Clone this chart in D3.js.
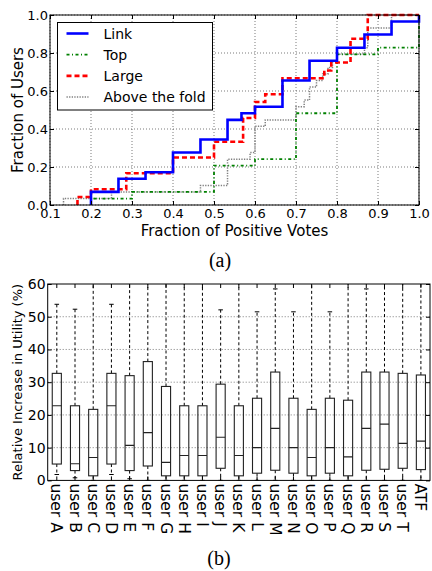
<!DOCTYPE html>
<html>
<head>
<meta charset="utf-8">
<script src="https://cdn.jsdelivr.net/npm/d3@7"></script>
<style>
  body { margin: 0; background: #fff; }
  svg { font-family: "DejaVu Sans", sans-serif; }
</style>
</head>
<body>
<div id="chart"></div>
<script>
// ---- data (a): CDF of fraction of positive votes
var linkX  = [0.2, 0.267, 0.333, 0.4, 0.467, 0.533, 0.567, 0.6, 0.667, 0.733, 0.8, 0.867, 0.933, 1.0];
var linkY  = [0.069, 0.138, 0.172, 0.276, 0.345, 0.448, 0.483, 0.517, 0.655, 0.759, 0.828, 0.897, 0.966, 1.0];
var topX   = [0.2, 0.3, 0.5, 0.6, 0.7, 0.8, 0.9, 1.0];
var topY   = [0.034, 0.069, 0.207, 0.241, 0.483, 0.793, 0.828, 1.0];
var largeX = [0.167, 0.2, 0.286, 0.4, 0.5, 0.571, 0.6, 0.625, 0.667, 0.769, 0.786, 0.833, 0.875];
var largeY = [0.042, 0.083, 0.167, 0.25, 0.333, 0.458, 0.542, 0.583, 0.667, 0.708, 0.75, 0.875, 1.0];
var foldX  = [0.133, 0.25, 0.467, 0.533, 0.588, 0.6, 0.625, 0.7, 0.72, 0.733, 0.75, 0.765, 0.778, 0.789, 0.8, 0.867, 0.875, 0.933];
var foldY  = [0.034, 0.069, 0.103, 0.241, 0.276, 0.414, 0.448, 0.517, 0.552, 0.621, 0.655, 0.69, 0.724, 0.759, 0.793, 0.828, 0.931, 1.0];
var seriesNames = ["Link", "Top", "Large", "Above the fold"];
var xTicksA = [0.1, 0.2, 0.3, 0.4, 0.5, 0.6, 0.7, 0.8, 0.9, 1.0];
var yTicksA = [0.0, 0.2, 0.4, 0.6, 0.8, 1.0];

// ---- data (b): box plot of relative increase in utility
var boxLabels = ["user A","user B","user C","user D","user E","user F","user G","user H","user I","user J",
                 "user K","user L","user M","user N","user O","user P","user Q","user R","user S","user T","ATF"];
var whiskLow  = [1.8, 0.8, 0, 1.8, 0.5, 0, 0, 0, 0, 0, 0, 0, 0, 0, 0, 0, 0, 0, 0, 0, 0];
var q1        = [5.0, 3.0, 1.4, 5.0, 3.0, 4.4, 1.4, 1.4, 1.4, 3.7, 1.4, 2.2, 3.1, 2.2, 1.4, 2.2, 1.4, 3.1, 3.4, 3.7, 3.3];
var medians   = [22.8, 5.1, 7.0, 22.8, 10.7, 14.6, 5.5, 7.6, 7.6, 13.2, 7.6, 10.0, 15.9, 10.0, 7.0, 10.0, 7.2, 15.9, 17.2, 11.3, 12.0];
var q3        = [32.7, 22.8, 21.7, 32.7, 32.0, 36.3, 28.7, 22.8, 22.8, 29.4, 22.8, 25.1, 33.1, 25.1, 21.7, 25.1, 24.5, 33.1, 33.1, 32.7, 32.2];
var whiskHigh = [53.8, 52.3, 65, 53.8, 65, 65, 65, 65, 65, 52.1, 65, 51.5, 58.5, 51.5, 65, 51.5, 65, 58.5, 65, 65, 65];
var yTicksB = [0, 10, 20, 30, 40, 50, 60];

var svg = d3.select("#chart").append("svg")
    .attr("width", 432)
    .attr("height", 571);

// =========== chart (a) ===========
var A = {left: 50, right: 419, top: 15, bottom: 205};
var xa = d3.scaleLinear().domain([0.1, 1.0]).range([A.left, A.right]);
var ya = d3.scaleLinear().domain([0, 1.0]).range([A.bottom, A.top]);

var ga = svg.append("g");

// grid
ga.selectAll(".gx").data(xTicksA).enter().append("line")
    .attr("x1", d => xa(d)).attr("x2", d => xa(d))
    .attr("y1", A.top).attr("y2", A.bottom)
    .attr("stroke", "#444").attr("stroke-width", 0.7).attr("stroke-dasharray", "1,2");
ga.selectAll(".gy").data(yTicksA).enter().append("line")
    .attr("x1", A.left).attr("x2", A.right)
    .attr("y1", d => ya(d)).attr("y2", d => ya(d))
    .attr("stroke", "#444").attr("stroke-width", 0.7).attr("stroke-dasharray", "1,2");

// step lines: jump to y[i] at x[i], run flat to next x
function stepPoints(xs, ys) {
    var pts = [[xs[0], 0]];
    for (var i = 0; i < xs.length - 1; i++) pts.push([xs[i + 1], ys[i]]);
    pts.push([1.0, ys[ys.length - 1]]);
    return pts;
}
var stepLine = d3.line()
    .x(d => xa(d[0]))
    .y(d => ya(d[1]))
    .curve(d3.curveStepBefore);

var styles = [
    {color: "#0000ff", width: 2.6, dash: null},
    {color: "#008000", width: 1.8, dash: "3,2.5,1,2.5"},
    {color: "#ff0000", width: 2.6, dash: "5,3"},
    {color: "#808080", width: 1.5, dash: "1.3,1.3"}
];
var series = [[foldX, foldY, 3], [topX, topY, 1], [largeX, largeY, 2], [linkX, linkY, 0]];
series.forEach(function(s) {
    var st = styles[s[2]];
    ga.append("path")
        .attr("d", stepLine(stepPoints(s[0], s[1])))
        .attr("fill", "none")
        .attr("stroke", st.color)
        .attr("stroke-width", st.width)
        .attr("stroke-dasharray", st.dash);
});

// axes (inward ticks)
ga.append("g").attr("transform", "translate(0," + A.bottom + ")")
    .call(d3.axisBottom(xa).tickValues(xTicksA).tickFormat(d3.format(".1f")).tickSizeInner(-4).tickSizeOuter(0).tickPadding(4))
    .call(g => g.select(".domain").remove())
    .call(g => g.selectAll("text").attr("font-size", 13).attr("fill", "#000").attr("font-family", "DejaVu Sans"));
ga.append("g").attr("transform", "translate(0," + A.top + ")")
    .call(d3.axisTop(xa).tickValues(xTicksA).tickFormat("").tickSizeInner(-4).tickSizeOuter(0))
    .call(g => g.select(".domain").remove());
ga.append("g").attr("transform", "translate(" + A.left + ",0)")
    .call(d3.axisLeft(ya).tickValues(yTicksA).tickFormat(d3.format(".1f")).tickSizeInner(-4).tickSizeOuter(0).tickPadding(2))
    .call(g => g.select(".domain").remove())
    .call(g => g.selectAll("text").attr("font-size", 13).attr("fill", "#000").attr("font-family", "DejaVu Sans"));
ga.append("g").attr("transform", "translate(" + A.right + ",0)")
    .call(d3.axisRight(ya).tickValues(yTicksA).tickFormat("").tickSizeInner(-4).tickSizeOuter(0))
    .call(g => g.select(".domain").remove());

ga.append("rect")
    .attr("x", A.left).attr("y", A.top)
    .attr("width", A.right - A.left).attr("height", A.bottom - A.top)
    .attr("fill", "none").attr("stroke", "#000").attr("stroke-width", 1);

// legend
var leg = ga.append("g");
leg.append("rect")
    .attr("x", 57.5).attr("y", 22.5).attr("width", 155).attr("height", 87.5)
    .attr("fill", "#fff").attr("stroke", "#000").attr("stroke-width", 1);
seriesNames.forEach(function(name, i) {
    var yy = 33.5 + i * 21.2;
    var st = styles[i];
    leg.append("line")
        .attr("x1", 66.5).attr("x2", 88.5).attr("y1", yy).attr("y2", yy)
        .attr("stroke", st.color).attr("stroke-width", st.width)
        .attr("stroke-dasharray", st.dash);
    leg.append("text")
        .attr("x", 103.5).attr("y", yy).attr("dy", "0.36em")
        .attr("font-size", 14).text(name);
});

// labels
ga.append("text")
    .attr("x", (A.left + A.right) / 2).attr("y", 236)
    .attr("text-anchor", "middle").attr("font-size", 15)
    .text("Fraction of Positive Votes");
ga.append("text")
    .attr("transform", "translate(17.5," + ((A.top + A.bottom) / 2) + ") rotate(-90)")
    .attr("text-anchor", "middle").attr("dy", "0.35em").attr("font-size", 15)
    .text("Fraction of Users");
svg.append("text")
    .attr("x", 220).attr("y", 267)
    .attr("text-anchor", "middle").attr("font-size", 20)
    .attr("font-family", "Liberation Serif, serif")
    .text("(a)");

// =========== chart (b) ===========
var B = {left: 47.7, right: 430, top: 284, bottom: 480.4};
var xb = d3.scaleBand().domain(boxLabels).range([B.left, B.right]);
var yb = d3.scaleLinear().domain([0, 60]).range([B.bottom, B.top]);
var bw = xb.bandwidth() * 0.5;

var gb = svg.append("g");
svg.append("clipPath").attr("id", "clipB").append("rect")
    .attr("x", B.left).attr("y", B.top)
    .attr("width", B.right - B.left).attr("height", B.bottom - B.top);

gb.selectAll(".gy").data(yTicksB.slice(1, -1)).enter().append("line")
    .attr("x1", B.left).attr("x2", B.right)
    .attr("y1", d => yb(d)).attr("y2", d => yb(d))
    .attr("stroke", "#444").attr("stroke-width", 0.7).attr("stroke-dasharray", "1,2");

var boxes = gb.append("g").attr("clip-path", "url(#clipB)")
    .selectAll("g").data(boxLabels).enter().append("g")
    .attr("transform", d => "translate(" + (xb(d) + xb.bandwidth() / 2) + ",0)");

// whiskers
boxes.append("line")
    .attr("y1", (d, i) => yb(q3[i])).attr("y2", (d, i) => yb(whiskHigh[i]))
    .attr("stroke", "#000").attr("stroke-width", 1).attr("stroke-dasharray", "3,2.5");
boxes.append("line")
    .attr("y1", (d, i) => yb(q1[i])).attr("y2", (d, i) => yb(whiskLow[i]))
    .attr("stroke", "#000").attr("stroke-width", 1).attr("stroke-dasharray", "3,2.5");
boxes.append("line")
    .attr("x1", -bw / 4).attr("x2", bw / 4)
    .attr("y1", (d, i) => yb(whiskHigh[i])).attr("y2", (d, i) => yb(whiskHigh[i]))
    .attr("stroke", "#000").attr("stroke-width", 1);
boxes.append("line")
    .attr("x1", -bw / 4).attr("x2", bw / 4)
    .attr("y1", (d, i) => yb(whiskLow[i])).attr("y2", (d, i) => yb(whiskLow[i]))
    .attr("stroke", "#000").attr("stroke-width", 1);
// boxes + medians
boxes.append("rect")
    .attr("x", -bw / 2).attr("width", bw)
    .attr("y", (d, i) => yb(q3[i]))
    .attr("height", (d, i) => yb(q1[i]) - yb(q3[i]))
    .attr("fill", "none").attr("stroke", "#222").attr("stroke-width", 1.1);
boxes.append("line")
    .attr("x1", -bw / 2).attr("x2", bw / 2)
    .attr("y1", (d, i) => yb(medians[i])).attr("y2", (d, i) => yb(medians[i]))
    .attr("stroke", "#222").attr("stroke-width", 1.1);

// axes
gb.append("g").attr("transform", "translate(0," + B.bottom + ")")
    .call(d3.axisBottom(xb).tickSizeInner(-4).tickSizeOuter(0).tickFormat(""))
    .call(g => g.select(".domain").remove());
gb.append("g").attr("transform", "translate(0," + B.top + ")")
    .call(d3.axisTop(xb).tickSizeInner(-4).tickSizeOuter(0).tickFormat(""))
    .call(g => g.select(".domain").remove());
gb.append("g").attr("transform", "translate(" + B.left + ",0)")
    .call(d3.axisLeft(yb).tickValues(yTicksB).tickSizeInner(-4).tickSizeOuter(0).tickPadding(2))
    .call(g => g.select(".domain").remove())
    .call(g => g.selectAll("text").attr("font-size", 14).attr("fill", "#000").attr("font-family", "DejaVu Sans"));
gb.append("g").attr("transform", "translate(" + B.right + ",0)")
    .call(d3.axisRight(yb).tickValues(yTicksB).tickSizeInner(-4).tickSizeOuter(0).tickFormat(""))
    .call(g => g.select(".domain").remove());

gb.append("rect")
    .attr("x", B.left).attr("y", B.top)
    .attr("width", B.right - B.left).attr("height", B.bottom - B.top)
    .attr("fill", "none").attr("stroke", "#000").attr("stroke-width", 1);

// rotated category labels
gb.selectAll(".cat").data(boxLabels).enter().append("text")
    .attr("transform", d => "translate(" + (xb(d) + xb.bandwidth() / 2) + "," + (B.bottom + 3) + ") rotate(90)")
    .attr("text-anchor", "start").attr("dy", "0.35em")
    .attr("font-size", 15.5)
    .text(d => d);

gb.append("text")
    .attr("transform", "translate(17," + ((B.top + B.bottom) / 2) + ") rotate(-90)")
    .attr("text-anchor", "middle").attr("dy", "0.35em").attr("font-size", 13)
    .text("Relative Increase in Utility (%)");
svg.append("text")
    .attr("x", 219).attr("y", 565)
    .attr("text-anchor", "middle").attr("font-size", 20)
    .attr("font-family", "Liberation Serif, serif")
    .text("(b)");
</script>
</body>
</html>
